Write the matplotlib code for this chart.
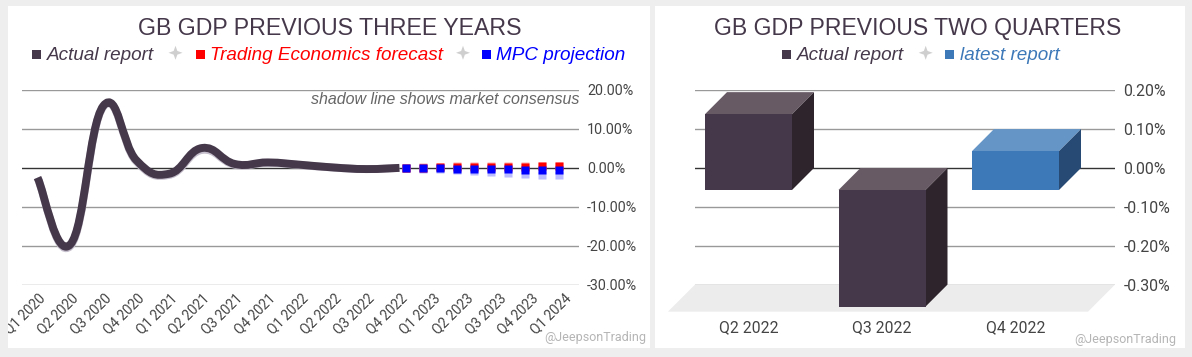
import numpy as np
import matplotlib
matplotlib.use("Agg")
import matplotlib.pyplot as plt
from matplotlib.patches import Rectangle, Polygon, PathPatch
from matplotlib.path import Path
from matplotlib.transforms import Bbox, ScaledTranslation

# ---------- data ----------
quarters = ["Q1 2020", "Q2 2020", "Q3 2020", "Q4 2020", "Q1 2021", "Q2 2021", "Q3 2021", "Q4 2021", "Q1 2022",
            "Q2 2022", "Q3 2022", "Q4 2022", "Q1 2023", "Q2 2023", "Q3 2023", "Q4 2023", "Q1 2024"]
actual = [-2.5, -19.6, 15.9, 2.0, -1.5, 5.1, 1.0, 1.4, 0.8, 0.1, -0.3, 0.0]
actual_consensus = [-2.5, -20.0, 15.7, 1.7, -1.8, 4.6, 0.8, 1.3, 0.7, 0.1, -0.3, 0.0]
te_forecast = [0.0, 0.1, 0.15, 0.2, 0.2, 0.3, 0.3, 0.35, 0.4, 0.45]
te_consensus = [0.0, 0.15, 0.3, 0.4, 0.45, 0.45, 0.45, 0.45, 0.45, 0.45]
mpc_projection = [0.0, -0.1, -0.15, -0.2, -0.25, -0.35, -0.4, -0.45, -0.5, -0.65]
mpc_consensus = [0.0, -0.25, -0.4, -0.6, -0.8, -1.1, -1.3, -1.5, -1.7, -1.9]
y_ticks_left = [20, 10, 0, -10, -20, -30]

bar_categories = ["Q2 2022", "Q3 2022", "Q4 2022"]
bar_values = [0.195, -0.3, 0.1]
y_ticks_right = [0.2, 0.1, 0.0, -0.1, -0.2, -0.3]

W, H = 1192, 357
BG = "#eeeeee"
INK = "#45384a"
TXT = "#444444"
GRID = "#999999"
BLUE = "#3d78b8"
fig = plt.figure(figsize=(W / 100, H / 100), dpi=100, facecolor=BG)
fx = lambda x: x / W
fy = lambda y: 1 - y / H


def axes_px(x0, x1, ytop, ybot):
    return fig.add_axes([fx(x0), fy(ybot), (x1 - x0) / W, (ybot - ytop) / H])


def px_rect(x0, x1, y0, y1):
    fig.add_artist(Rectangle((fx(x0), fy(y1)), (x1 - x0) / W, (y1 - y0) / H,
                             transform=fig.transFigure, fc="white", ec="none", zorder=-5))


def smooth_path(xs, ys, t=0.22):
    xs, ys = np.asarray(xs, float), np.asarray(ys, float)
    verts = [(xs[0], ys[0])]
    codes = [Path.MOVETO]
    n = len(xs)
    for i in range(n - 1):
        a, b = max(i - 1, 0), min(i + 2, n - 1)
        verts += [(xs[i] + t * (xs[i + 1] - xs[a]), ys[i] + t * (ys[i + 1] - ys[a])),
                  (xs[i + 1] - t * (xs[b] - xs[i]), ys[i + 1] - t * (ys[b] - ys[i])),
                  (xs[i + 1], ys[i + 1])]
        codes += [Path.CURVE4] * 3
    return Path(verts, codes)


def star(cx, cy, r=7.0, q=2.6):
    pts = []
    for k in range(8):
        ang = np.pi / 4 * k
        rad = r if k % 2 == 0 else q
        pts.append((fx(cx + rad * np.cos(ang)), fy(cy + rad * np.sin(ang))))
    fig.add_artist(Polygon(pts, transform=fig.transFigure, fc="#cfcfcf", ec="none"))


def legend(items, base=60):
    for kind, x, label, col in items:
        if kind == "sq":
            fig.add_artist(Rectangle((fx(x), fy(59.4)), 9.2 / W, 9.2 / H, transform=fig.transFigure,
                                     fc=col, ec="none"))
            fig.text(fx(x + 14.5), fy(base), label, color=col, fontsize=13.6, style="italic",
                     family="Liberation Sans", va="baseline", ha="left")
        else:
            star(x, 52.8)


px_rect(8, 650, 6, 348)
px_rect(654.5, 1185, 6, 348)

# ---------- left panel ----------
ax = axes_px(22, 579, 89.9, 284.9)
ax.set_facecolor("none")
Q = 32.9
ax.set_xlim((22 - 37.5) / Q, (579 - 37.5) / Q)
ax.set_ylim(-30, 20)
for s in ax.spines.values():
    s.set_visible(False)
for v in y_ticks_left:
    ax.axhline(v, color="#333333" if v == 0 else GRID, lw=1.0, zorder=1)
ax.set_yticks(y_ticks_left, [f"{v:.2f}%" for v in y_ticks_left])
ax.yaxis.tick_right()
ax.tick_params(axis="y", length=0, pad=5.8, labelsize=10.3, labelcolor=TXT)
for lb in ax.get_yticklabels():
    lb.set_family("Roboto")
ax.set_xticks(range(len(quarters)), quarters)
ax.tick_params(axis="x", length=0, pad=4.5, labelsize=9.8, labelcolor=TXT)
clip = Bbox([[8, 0], [650, H]])
shift = ScaledTranslation(0.5 / 100, 0, fig.dpi_scale_trans)
for lb in ax.get_xticklabels():
    lb.set_family("Roboto")
    lb.set_rotation(45)
    lb.set_ha("right")
    lb.set_va("top")
    lb.set_rotation_mode("anchor")
    lb.set_transform(lb.get_transform() + shift)
    lb.set_clip_box(clip)
    lb.set_clip_on(True)

qx = np.arange(len(actual))
ax.add_patch(PathPatch(smooth_path(qx, actual_consensus), fc="none", ec="#c4bdcb", lw=5.7,
                       capstyle="butt", zorder=3, clip_on=False))
ax.add_patch(PathPatch(smooth_path(qx, actual), fc="none", ec=INK, lw=5.7,
                       capstyle="butt", joinstyle="round", zorder=4, clip_on=False))

fx_pos = 11.2 + 0.517 * np.arange(len(te_forecast))
ms = 5.9
ax.plot(fx_pos, te_consensus, ls="none", marker="s", ms=ms, mec="none", color="#ffaaaa", zorder=5)
ax.plot(fx_pos, mpc_consensus, ls="none", marker="s", ms=ms, mec="none", color="#bbbbff", zorder=5)
ax.plot(fx_pos, te_forecast, ls="none", marker="s", ms=ms, mec="none", color="#ff0000", zorder=6)
ax.plot(fx_pos, mpc_projection, ls="none", marker="s", ms=ms, mec="none", color="#0000ff", zorder=7)

fig.text(fx(579), fy(99.3), "shadow line shows market consensus", color="#666666", fontsize=11.55, style="italic",
         family="Liberation Sans", ha="right", va="center")
fig.text(fx(329.5), fy(35), "GB GDP PREVIOUS THREE YEARS", color=INK, fontsize=16.7,
         family="Liberation Sans", ha="center", va="baseline")
legend([("sq", 32, "Actual report", INK), ("st", 175.5, "", ""), ("sq", 195.5, "Trading Economics forecast", "#ff0000"),
        ("st", 463, "", ""), ("sq", 482, "MPC projection", "#0000ff")])
fig.text(fx(646), fy(338), "@JeepsonTrading", color="#b5b5b5", fontsize=9, family="Roboto", ha="right", va="center")

# ---------- right panel ----------
ax2 = axes_px(695, 1115, 90.2, 284.6)
ax2.set_facecolor("none")
C = 133.5
ax2.set_xlim((695 - 748.5) / C, (1115 - 748.5) / C)
ax2.set_ylim(-0.3, 0.2)
for s in ax2.spines.values():
    s.set_visible(False)
for v in y_ticks_right:
    ax2.axhline(v, color="#333333" if v == 0 else GRID, lw=1.0, zorder=2)
ax2.set_yticks(y_ticks_right, [f"{v:.2f}%" for v in y_ticks_right])
ax2.yaxis.tick_right()
ax2.tick_params(axis="y", length=0, pad=6.2, labelsize=11.4, labelcolor=TXT)
ax2.set_xticks(range(len(bar_categories)), bar_categories)
ax2.tick_params(axis="x", length=0, pad=25.5, labelsize=11.3, labelcolor=TXT)
for lb in ax2.get_yticklabels() + ax2.get_xticklabels():
    lb.set_family("Roboto")

dx, dy = 22 / C, 22 * 0.5 / 194
fdx, fdy = 27 / C, 27 * 0.5 / 194
x0, x1 = ax2.get_xlim()
ax2.add_patch(Polygon([(x0, -0.3), (x1, -0.3), (x1 - fdx, -0.3 - fdy), (x0 - fdx, -0.3 - fdy)],
                      fc="#ececec", ec="none", zorder=1, clip_on=False))
hw = 87 / C / 2
palette = [(INK, "#675a65", "#2e242b"), (INK, "#675a65", "#2e242b"), (BLUE, "#6595c7", "#274a75")]
for i, v in enumerate(bar_values):
    front, top_c, side = palette[i]
    hi, lo = max(v, 0) - dy, min(v, 0) - dy
    l, r = i - hw, i + hw
    ax2.add_patch(Polygon([(l, hi), (r, hi), (r + dx, hi + dy), (l + dx, hi + dy)], fc=top_c, ec="none",
                          zorder=3, clip_on=False))
    ax2.add_patch(Polygon([(r, lo), (r + dx, lo + dy), (r + dx, hi + dy), (r, hi)], fc=side, ec="none",
                          zorder=3, clip_on=False))
    ax2.add_patch(Polygon([(l, lo), (r, lo), (r, hi), (l, hi)], fc=front, ec="none", zorder=4, clip_on=False))

fig.text(fx(917.5), fy(35), "GB GDP PREVIOUS TWO QUARTERS", color=INK, fontsize=16.6,
         family="Liberation Sans", ha="center", va="baseline")
legend([("sq", 782, "Actual report", INK), ("st", 925.7, "", ""), ("sq", 945, "latest report", BLUE)])
fig.text(fx(1176), fy(340), "@JeepsonTrading", color="#b5b5b5", fontsize=9, family="Roboto", ha="right", va="center")

fig.savefig("out.png", dpi=100, facecolor=BG)
